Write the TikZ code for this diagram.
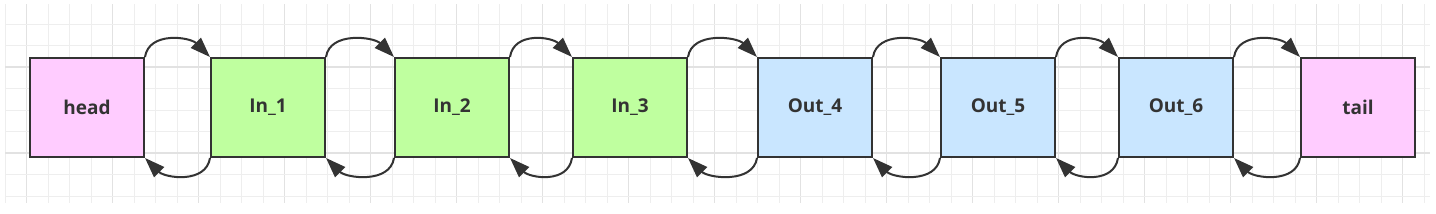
\documentclass[tikz,border=0pt]{standalone}
\usepackage{fontspec}
\setmainfont{Open Sans}
\usetikzlibrary{arrows.meta}
\definecolor{gridminor}{HTML}{EEEEEE}
\definecolor{gridmajor}{HTML}{E2E2E2}
\definecolor{pinkfill}{HTML}{FFCCFF}
\definecolor{greenfill}{HTML}{BFFF9F}
\definecolor{bluefill}{HTML}{C9E6FF}
\definecolor{edge}{HTML}{333333}
\definecolor{txt}{HTML}{333333}
\tikzset{
  box/.style={draw=edge, line width=2pt, minimum width=114pt, minimum height=99pt,
    inner sep=0pt, anchor=north west, font=\fontsize{19}{22}\selectfont\bfseries, text=txt},
  pinkbox/.style={box, fill=pinkfill},
  greenbox/.style={box, fill=greenfill},
  bluebox/.style={box, fill=bluefill},
  link/.style={draw=edge, line width=2pt},
  tipstyle/.style={-{Stealth[length=20pt,width=14pt,inset=0pt]}}
}
\begin{document}
\begin{tikzpicture}[x=1pt,y=-1pt]
\useasboundingbox (0,0) rectangle (1436,214);
\fill[white] (0,0) rectangle (1436,214);
% grid
\foreach \i in {0,...,66} {
  \pgfmathsetmacro{\xx}{5+21.5*\i}
  \pgfmathtruncatemacro{\m}{mod(\i,4)}
  \ifnum\m=1
    \draw[gridmajor, line width=1.2pt] (\xx,4) -- (\xx,203);
  \else
    \draw[gridminor, line width=1pt] (\xx,4) -- (\xx,203);
  \fi
}
\foreach \j in {1,...,9} {
  \pgfmathsetmacro{\yy}{2.5+21.5*\j}
  \pgfmathtruncatemacro{\m}{mod(\j,4)}
  \ifnum\m=3
    \draw[gridmajor, line width=1.2pt] (5,\yy) -- (1430,\yy);
  \else
    \draw[gridminor, line width=1pt] (5,\yy) -- (1430,\yy);
  \fi
}
% boxes
\node[pinkbox]  (head) at (29,57)   {head};
\node[greenbox] (in1)  at (210,57)  {In\_1};
\node[greenbox] (in2)  at (394,57)  {In\_2};
\node[greenbox] (in3)  at (572,57)  {In\_3};
\node[bluebox]  (out4) at (757,57)  {Out\_4};
\node[bluebox]  (out5) at (940,57)  {Out\_5};
\node[bluebox]  (out6) at (1118,57) {Out\_6};
\node[pinkbox]  (tail) at (1300,57) {tail};
% links
\foreach \a/\b in {head/in1,in1/in2,in2/in3,in3/out4,out4/out5,out5/out6,out6/tail} {
  \draw[link, tipstyle] (\a.north east) .. controls +(4,-26) and +(-20,-20) .. (\b.north west);
  \draw[link, tipstyle] (\b.south west) .. controls +(-4,26) and +(20,20) .. (\a.south east);
}
\end{tikzpicture}
\end{document}
